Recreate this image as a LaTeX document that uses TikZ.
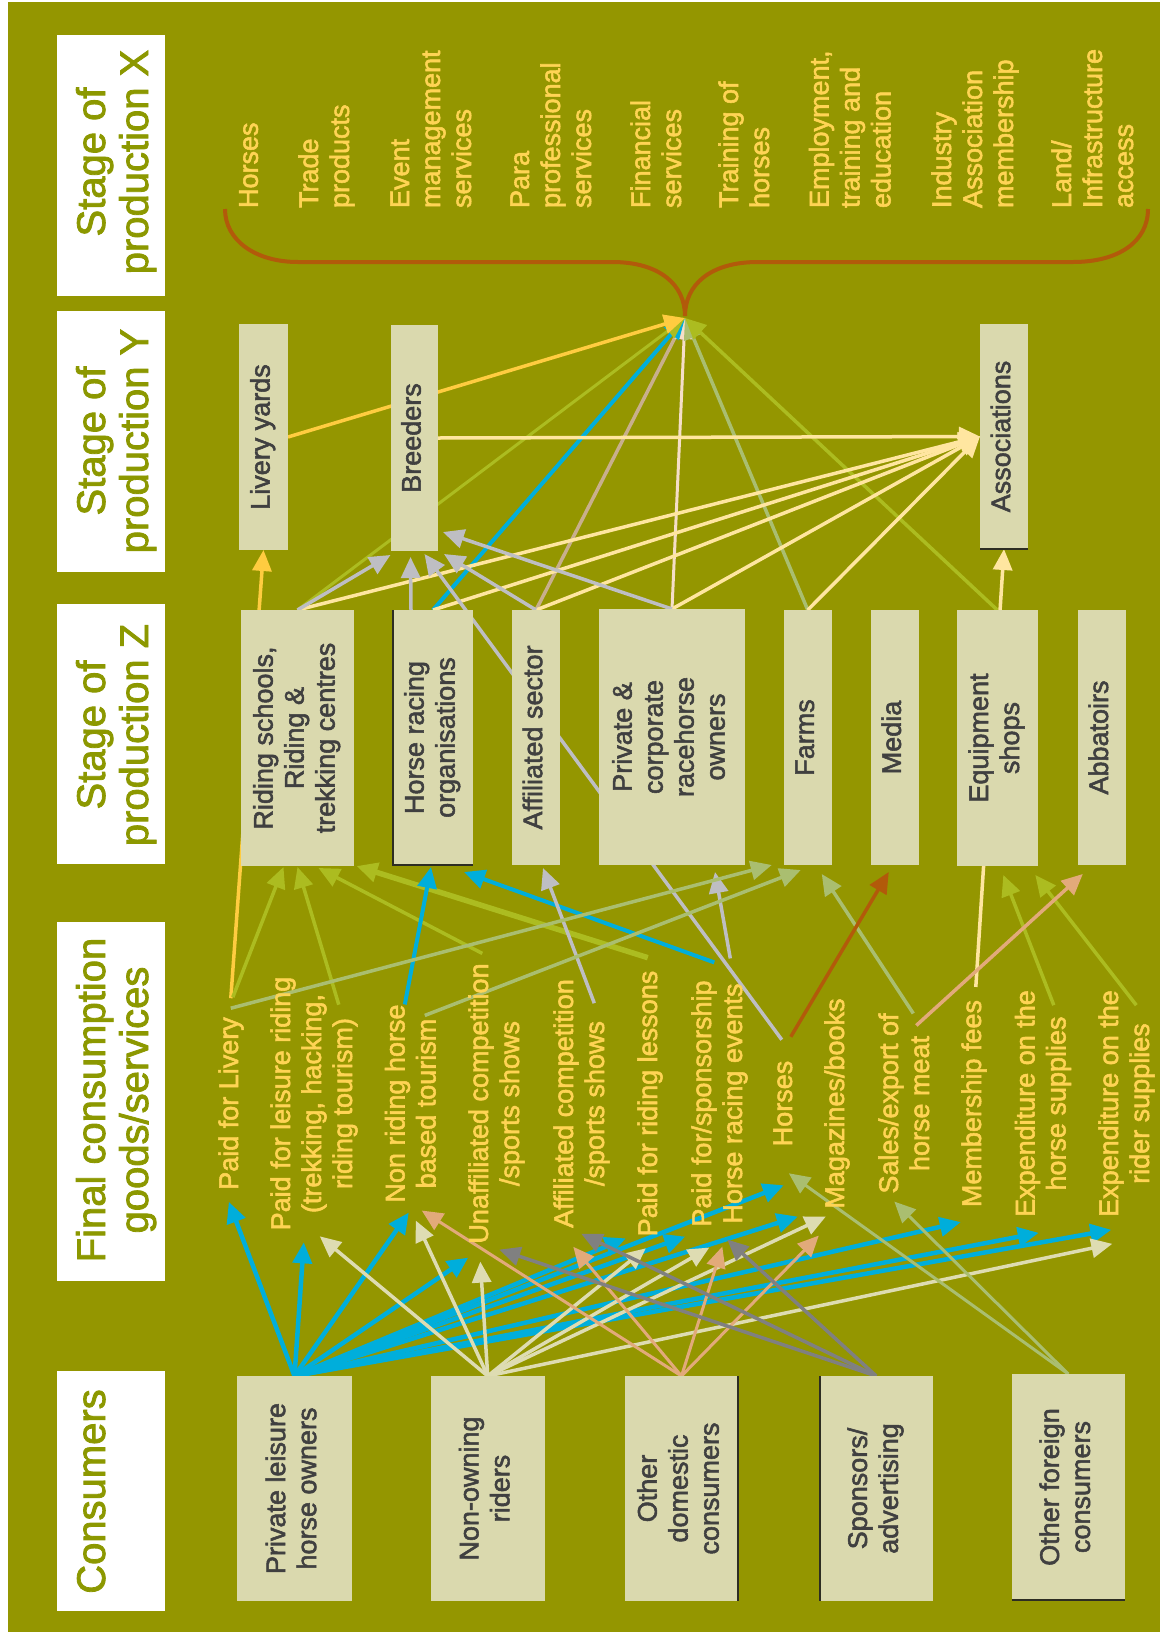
\documentclass[tikz,border=0pt]{standalone}
\usepackage{fontspec}
\setmainfont{Liberation Sans}[FakeBold=2]
\usepackage{graphicx}
\usetikzlibrary{arrows.meta,calc}

% rotated block of lines (reads bottom to top)
\newcommand{\rottab}[2]{\rotatebox{90}{\begin{tabular}{@{}#1@{}}#2\end{tabular}}}

\pgfdeclarelayer{back}
\pgfdeclarelayer{lines}
\pgfsetlayers{back,lines,main}

\definecolor{olivebg}{RGB}{148,150,0}
\definecolor{headtext}{RGB}{140,152,0}
\definecolor{boxfill}{RGB}{218,217,174}
\definecolor{boxtext}{RGB}{64,64,64}
\definecolor{txtgold}{RGB}{255,212,84}
\definecolor{bracebrown}{RGB}{178,90,10}
\definecolor{acyan}{RGB}{0,174,219}
\definecolor{abeige}{RGB}{222,220,178}
\definecolor{asalmon}{RGB}{226,170,122}
\definecolor{adgray}{RGB}{128,128,128}
\definecolor{asage}{RGB}{170,190,112}
\definecolor{alime}{RGB}{172,188,32}
\definecolor{alightgray}{RGB}{190,190,195}
\definecolor{acream}{RGB}{255,230,160}
\definecolor{ayellow}{RGB}{255,204,64}
\definecolor{atan}{RGB}{200,175,140}
\definecolor{apink}{RGB}{245,222,200}
\definecolor{edgedark}{RGB}{45,45,35}

\begin{document}
\begin{tikzpicture}[x=1pt,y=-1pt,
  headbox/.style={fill=white, inner sep=0pt, outer sep=0pt, minimum width=108pt},
  headtxt/.style={text=headtext, font=\fontsize{40}{43}\selectfont, inner sep=0pt, outer sep=0pt, anchor=west},
  ybox/.style={fill=boxfill, text=boxtext, font=\fontsize{27}{31}\selectfont, inner sep=0pt, outer sep=0pt},
  xitem/.style={text=txtgold, font=\fontsize{27}{31}\selectfont, inner sep=0pt, outer sep=0pt, anchor=south west},
  fitem/.style={text=txtgold, font=\fontsize{27}{31}\selectfont, inner sep=0pt, outer sep=0pt, anchor=west},
  conn/.style={line width=3.5pt, -{Triangle[length=21pt,width=19pt]}},
  bracestroke/.style={draw=bracebrown, line width=4pt},
  shadeline/.style={draw=edgedark, line width=1.2pt}
]
\useasboundingbox (0,0) rectangle (1160,1633);

\begin{pgfonlayer}{back}
  \fill[white] (0,0) rectangle (1160,1633);
  \fill[olivebg] (8,2) rectangle (1160,1632);
\end{pgfonlayer}

% ---------- row headers ----------
\node[headbox, minimum height=261pt] (hX) at (111,165.5) {};
\node[headbox, minimum height=261pt] (hY) at (111,441.5) {};
\node[headbox, minimum height=260pt] (hZ) at (111,734) {};
\node[headbox, minimum height=359pt] (hF) at (111,1101.5) {};
\node[headbox, minimum height=240pt] (hC) at (111,1491) {};
\node[headtxt] (hXt) at (74.9,162) {\rottab{c}{Stage of\\production X}};
\node[headtxt] (hYt) at (74.9,441) {\rottab{c}{Stage of\\production Y}};
\node[headtxt] (hZt) at (74.9,735) {\rottab{c}{Stage of\\production Z}};
\node[headtxt] (hFt) at (74.9,1100) {\rottab{c}{Final consumption\\goods/services}};
\node[headtxt] (hCt) at (74.9,1491.5) {\rottab{c}{Consumers}};

% ---------- stage X items ----------
\node[xitem] (x1) at (236.1,208) {\rottab{l}{Horses}};
\node[xitem] (x2) at (296.3,208) {\rottab{l}{Trade\\products}};
\node[xitem] (x3) at (387.3,208) {\rottab{l}{Event\\management\\services}};
\node[xitem] (x4) at (507.3,208) {\rottab{l}{Para\\professional\\services}};
\node[xitem] (x5) at (628.3,208) {\rottab{l}{Financial\\services}};
\node[xitem] (x6) at (716.3,208) {\rottab{l}{Training of\\horses}};
\node[xitem] (x7) at (806.8,208) {\rottab{l}{Employment,\\training and\\education}};
\node[xitem] (x8) at (929.3,208) {\rottab{l}{Industry\\Association\\membership}};
\node[xitem] (x9) at (1049.3,208) {\rottab{l}{Land/\\Infrastructure\\access}};
\coordinate (tip) at (685,318);

% ---------- stage Y ----------
\node[ybox, minimum width=49pt, minimum height=226pt] (liv) at (263.5,437) {\rottab{c}{Livery yards}};
\node[ybox, minimum width=47pt, minimum height=226pt] (bre) at (414.5,438) {\rottab{c}{Breeders}};
\node[ybox, minimum width=48pt, minimum height=225pt] (ass) at (1004,436.5) {\rottab{c}{Associations}};

% ---------- stage Z ----------
\node[ybox, minimum width=113pt, minimum height=256pt] (rid) at (297.5,738) {\rottab{c}{Riding schools,\\Riding \&\\trekking centres}};
\node[ybox, minimum width=80pt, minimum height=255pt] (hro) at (433,737.5) {\rottab{c}{Horse racing\\organisations}};
\node[ybox, minimum width=48pt, minimum height=255pt] (aff) at (536,737.5) {\rottab{c}{Affiliated sector}};
\node[ybox, minimum width=146pt, minimum height=256pt] (pco) at (672,737) {\rottab{c}{Private \&\\corporate\\racehorse\\owners}};
\node[ybox, minimum width=47.5pt, minimum height=255pt] (far) at (807.75,737.5) {\rottab{c}{Farms}};
\node[ybox, minimum width=47.5pt, minimum height=255pt] (med) at (894.75,737.5) {\rottab{c}{Media}};
\node[ybox, minimum width=80.6pt, minimum height=256pt] (equ) at (997.3,738) {\rottab{c}{Equipment\\shops}};
\node[ybox, minimum width=47.6pt, minimum height=255pt] (abb) at (1101.8,737.5) {\rottab{c}{Abbatoirs}};

% ---------- final consumption goods/services ----------
\node[fitem] (f1) at (216.3,1103.5) {\rottab{c}{Paid for Livery}};
\node[fitem] (f2) at (268.3,1103.5) {\rottab{c}{Paid for leisure riding\\(trekking, hacking,\\riding tourism)}};
\node[fitem] (f3) at (382.8,1103.5) {\rottab{c}{Non riding horse\\based tourism}};
\node[fitem] (f4) at (466.3,1103.5) {\rottab{c}{Unaffiliated competition\\/sports shows}};
\node[fitem] (f5) at (551.3,1103.5) {\rottab{c}{Affiliated competition\\/sports shows}};
\node[fitem] (f6) at (635.3,1103.5) {\rottab{c}{Paid for riding lessons}};
\node[fitem] (f7) at (689.3,1103.5) {\rottab{c}{Paid for/sponsorship\\Horse racing events}};
\node[fitem] (f8) at (770.3,1103.5) {\rottab{c}{Horses}};
\node[fitem] (f9) at (822.3,1103.5) {\rottab{c}{Magazines/books}};
\node[fitem] (f10) at (876.3,1103.5) {\rottab{c}{Sales/export of\\horse meat}};
\node[fitem] (f11) at (959.3,1103.5) {\rottab{c}{Membership fees}};
\node[fitem] (f12) at (1012.8,1103.5) {\rottab{c}{Expenditure on the\\horse supplies}};
\node[fitem] (f13) at (1096.3,1103.5) {\rottab{c}{Expenditure on the\\rider supplies}};

% ---------- consumers ----------
\node[ybox, minimum width=115pt, minimum height=225pt] (plo) at (294.5,1488.5) {\rottab{c}{Private leisure\\horse owners}};
\node[ybox, minimum width=113.5pt, minimum height=225pt] (nor) at (487.75,1488.5) {\rottab{c}{Non-owning\\riders}};
\node[ybox, minimum width=113pt, minimum height=225pt] (odc) at (681.5,1488.5) {\rottab{c}{Other\\domestic\\consumers}};
\node[ybox, minimum width=112.5pt, minimum height=225pt] (spo) at (876.25,1488.5) {\rottab{c}{Sponsors/\\advertising}};
\node[ybox, minimum width=112.5pt, minimum height=226pt] (ofc) at (1068.25,1487) {\rottab{c}{Other foreign\\consumers}};

% thin dark edges on some boxes
\draw[shadeline] (hro.north west) -- (hro.south west) -- (hro.south east);
\draw[shadeline] (ass.south west) -- (ass.south east);
\draw[shadeline] (odc.north east) -- (odc.south east);
\draw[shadeline] (spo.north west) -- (spo.south west);
\draw[shadeline] (ofc.south west) -- (ofc.south east);

\begin{pgfonlayer}{lines}
  % curly brace over the stage X items
  \draw[bracestroke] (225,209) .. controls (225,240) and (255,262) .. (298,262)
    -- (612,262) .. controls (660,262) and (685,285) .. (685,316)
    .. controls (685,285) and (710,262) .. (758,262)
    -- (1073,262) .. controls (1118,262) and (1148,242) .. (1148,209);

  % stage Y / Z feeding stage X
  \draw[conn, atan] (aff.north) -- (tip);
  \draw[conn, apink, line width=3pt] (pco.north) -- (tip);
  \draw[conn, asage] (far.north) -- (tip);
  \draw[conn, acyan, line width=4pt] (hro.north) -- (tip);
  \draw[conn, alime, line width=3pt] (rid.north) -- (tip);
  \draw[conn, alime] (equ.north) -- (tip);
  \draw[conn, ayellow] (liv.east) -- (tip);

  % into Associations
  \draw[conn, acream] (bre.east) -- (ass.west);
  \draw[conn, acream] (rid.north) -- (ass.west);
  \draw[conn, acream] (hro.north) -- (ass.west);
  \draw[conn, acream] (aff.north) -- (ass.west);
  \draw[conn, acream] (pco.north) -- (ass.west);
  \draw[conn, acream] (far.north) -- (ass.west);
  \draw[conn, acream] ($(f11.north)+(1,-13)$) -- (ass.south);

  % into Livery yards
  \draw[conn, ayellow] ($(f1.north)+(-1,-19)$) -- (liv.south);

  % into Breeders
  \draw[conn, alightgray] (rid.north) -- ($(bre.south)+(-24,4)$);
  \draw[conn, alightgray] ($(hro.north)+(-22,0)$) -- ($(bre.south)+(-4,6)$);
  \draw[conn, alightgray] ($(f8.north)+(-4,-21)$) -- ($(bre.south)+(10,3)$);
  \draw[conn, alightgray] (aff.north) -- ($(bre.south east)+(6,3)$);
  \draw[conn, alightgray] (pco.north) -- ($(bre.south east)+(5,-19)$);

  % final consumption into stage Z
  \draw[conn, alime] ($(f1.north)+(1,-20)$) -- ($(rid.south)+(-14,1)$);
  \draw[conn, alime] ($(f2.north)+(24,28)$) -- ($(rid.south)+(0,1)$);
  \draw[conn, alime] ($(f4.north)+(-15,-10)$) -- ($(rid.south)+(21,2)$);
  \draw[conn, alime, line width=5.5pt] ($(f6.north)+(-3,-13)$) -- ($(rid.south)+(59,0)$);
  \draw[conn, acyan, line width=4pt] ($(f3.north)+(-9,0)$) -- ($(hro.south)+(-2,2)$);
  \draw[conn, acyan, line width=4pt] ($(f7.north)+(-6,-18)$) -- ($(hro.south)+(31,7)$);
  \draw[conn, alightgray] ($(f5.north)+(12,24)$) -- ($(aff.south)+(7,3)$);
  \draw[conn, alightgray] ($(f7.north)+(10,-22)$) -- ($(pco.south)+(43,7)$);
  \draw[conn, asage] ($(f1.north)+(-1,-9)$) -- ($(far.south)+(-36,0)$);
  \draw[conn, asage] ($(f3.north)+(11,11)$) -- ($(far.south)+(-7,5)$);
  \draw[conn, asage] ($(f10.north)+(6,0)$) -- ($(far.south)+(14,9)$);
  \draw[conn, bracebrown] ($(f8.north)+(5,-24)$) -- ($(med.south)+(-6,7)$);
  \draw[conn, alime] ($(f12.north)+(10,15)$) -- ($(equ.south)+(6,9)$);
  \draw[conn, alime] ($(f13.north)+(9,15)$) -- ($(equ.south)+(38,9)$);
  \draw[conn, asalmon] ($(f10.north)+(9,12)$) -- ($(abb.south)+(-19,9)$);

  % consumers into final consumption
  \begin{scope}[conn, acyan, line width=4.5pt]
    \draw (plo.north) -- ($(f1.south)+(-3,12)$);
    \draw (plo.north) -- ($(f2.south)+(-11,12)$);
    \draw (plo.north) -- ($(f3.south)+(-5,10)$);
    \draw (plo.north) -- ($(f4.south)+(-29,14)$);
    \draw (plo.north) -- ($(f6.south)+(-25,2)$);
    \draw (plo.north) -- ($(f7.south)+(-35,10)$);
    \draw (plo.north) -- ($(f8.south)+(-2,39)$);
    \draw (plo.north) -- ($(f9.south)+(-40,8)$);
    \draw (plo.north) -- ($(f11.south)+(-14,15)$);
    \draw (plo.north) -- ($(f12.south)+(-5,16)$);
    \draw (plo.north) -- ($(f13.south)+(-16,13)$);
  \end{scope}
  \begin{scope}[conn, abeige]
    \draw (nor.north) -- ($(f2.south)+(5,6)$);
    \draw (nor.north) -- ($(f3.south)+(2,18)$);
    \draw (nor.north) -- ($(f4.south)+(-17,18)$);
    \draw (nor.north) -- ($(f6.south)+(-5,12)$);
    \draw (nor.north) -- ($(f7.south)+(-11,21)$);
    \draw (nor.north) -- ($(f9.south)+(-12,8)$);
    \draw (nor.north) -- ($(f13.south)+(-15,27)$);
  \end{scope}
  \begin{scope}[conn, asalmon, line width=3pt]
    \draw (odc.north) -- ($(f3.south)+(8,8)$);
    \draw (odc.north) -- ($(f5.south)+(-9,19)$);
    \draw (odc.north) -- ($(f7.south)+(2,20)$);
    \draw (odc.north) -- ($(f9.south)+(-19,27)$);
  \end{scope}
  \begin{scope}[conn, adgray]
    \draw (spo.north) -- ($(f4.south)+(2,6)$);
    \draw (spo.north) -- ($(f5.south)+(-1,6)$);
    \draw (spo.north) -- ($(f7.south)+(7,13)$);
  \end{scope}
  \begin{scope}[conn, asage, line width=3pt]
    \draw (ofc.north) -- ($(f8.south)+(3,27)$);
    \draw (ofc.north) -- ($(f10.south)+(-13,8)$);
  \end{scope}
\end{pgfonlayer}
\end{tikzpicture}
\end{document}
